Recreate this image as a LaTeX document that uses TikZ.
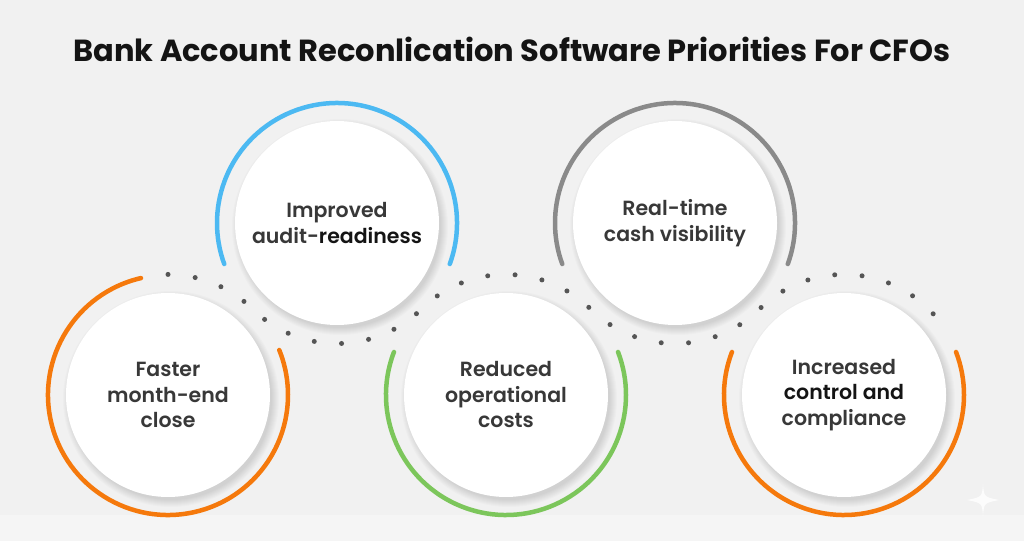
\documentclass[tikz,border=0pt]{standalone}
\usepackage{fontspec}
\setmainfont{Poppins}[UprightFont=* Medium, BoldFont=* SemiBold]
\newfontfamily\headfont{Poppins}[UprightFont=* Bold]
\usetikzlibrary{positioning}
\definecolor{bgGray}{HTML}{F1F1F1}
\definecolor{bandGray}{HTML}{F5F5F5}
\definecolor{txtGray}{HTML}{383838}
\definecolor{txtDark}{HTML}{141414}
\definecolor{dotGray}{HTML}{555555}
\definecolor{ringOrange}{HTML}{F5790C}
\definecolor{ringBlue}{HTML}{4CB9F2}
\definecolor{ringGreen}{HTML}{7CC65B}
\definecolor{ringGray}{HTML}{8A8A8A}
\begin{document}
\begin{tikzpicture}[
		x=1pt,y=1pt,
		disc/.style={
			circle,
			fill=white,
			minimum size=204pt,
			inner sep=0pt,
			align=center,
			text=txtGray,
			font=\bfseries\fontsize{20.5}{25.5}\selectfont
		},
		ring/.style={
			line width=4.5pt,
			line cap=round
		},
		dots/.style={
			draw=dotGray,
			line width=5pt,
			line cap=round,
			dash pattern=on 0pt off 27.4pt
		},
		title/.style={
			anchor=base,
			text=txtDark,
			font=\headfont\fontsize{30.5}{36}\selectfont
		}
		]
		\useasboundingbox (0,0) rectangle (1024,541);
		\fill[bgGray] (0,0) rectangle (1024,541);
		\fill[bandGray] (0,0) rectangle (1024,26);
		\node[title] (head) at (512,479) {Bank Account Reconlication Software Priorities For CFOs};
		% centres of the five discs
		\coordinate (p1) at (168,146);
		\coordinate (p2) at (337,318);
		\coordinate (p3) at (506,146);
		\coordinate (p4) at (675,318);
		\coordinate (p5) at (844,146);
		% soft shadows
		\foreach \i in {1,...,5}
		{\foreach \k in {0,...,7}
			\fill[black,opacity=0.016] ([shift={(3,-4)}]p\i) circle[radius=101+\k];
		}
		\node[disc] (c1) at (p1) {Faster\\month-end\\close};
		\node[disc] (c2) at (p2) {Improved\\audit-\textcolor{txtDark}{readiness}};
		\node[disc] (c3) at (p3) {Reduced\\operational\\costs};
		\node[disc] (c4) at (p4) {Real-time\\cash visibility};
		\node[disc] (c5) at (p5) {Increased\\\textcolor{txtDark}{control and}\\compliance};
		% coloured rings
		\draw[ring,ringOrange] ([shift={(103:120)}]c1.center) arc[start angle=103,end angle=382,radius=120];
		\draw[ring,ringBlue] ([shift={(-20:120)}]c2.center) arc[start angle=-20,end angle=200,radius=120];
		\draw[ring,ringGreen] ([shift={(159:120)}]c3.center) arc[start angle=159,end angle=381,radius=120];
		\draw[ring,ringGray] ([shift={(-20:120)}]c4.center) arc[start angle=-20,end angle=200,radius=120];
		\draw[ring,ringOrange] ([shift={(159:120)}]c5.center) arc[start angle=159,end angle=381,radius=120];
		% dotted chain through the touching points
		\draw[dots] ([shift={(90:120.57)}]c1.center)
			arc[start angle=90,end angle=45.5,radius=120.57]
			arc[start angle=225.5,end angle=314.5,radius=120.57]
			arc[start angle=134.5,end angle=45.5,radius=120.57]
			arc[start angle=225.5,end angle=314.5,radius=120.57]
			arc[start angle=134.5,end angle=40,radius=120.57];
		% faint sparkle
		\fill[white,opacity=0.8] (983,57) .. controls (984,44) .. (999,41) .. controls (984,38) .. (983,25) .. controls (982,38) .. (967,41) .. controls (982,44) .. (983,57) -- cycle;
\end{tikzpicture}
\end{document}
